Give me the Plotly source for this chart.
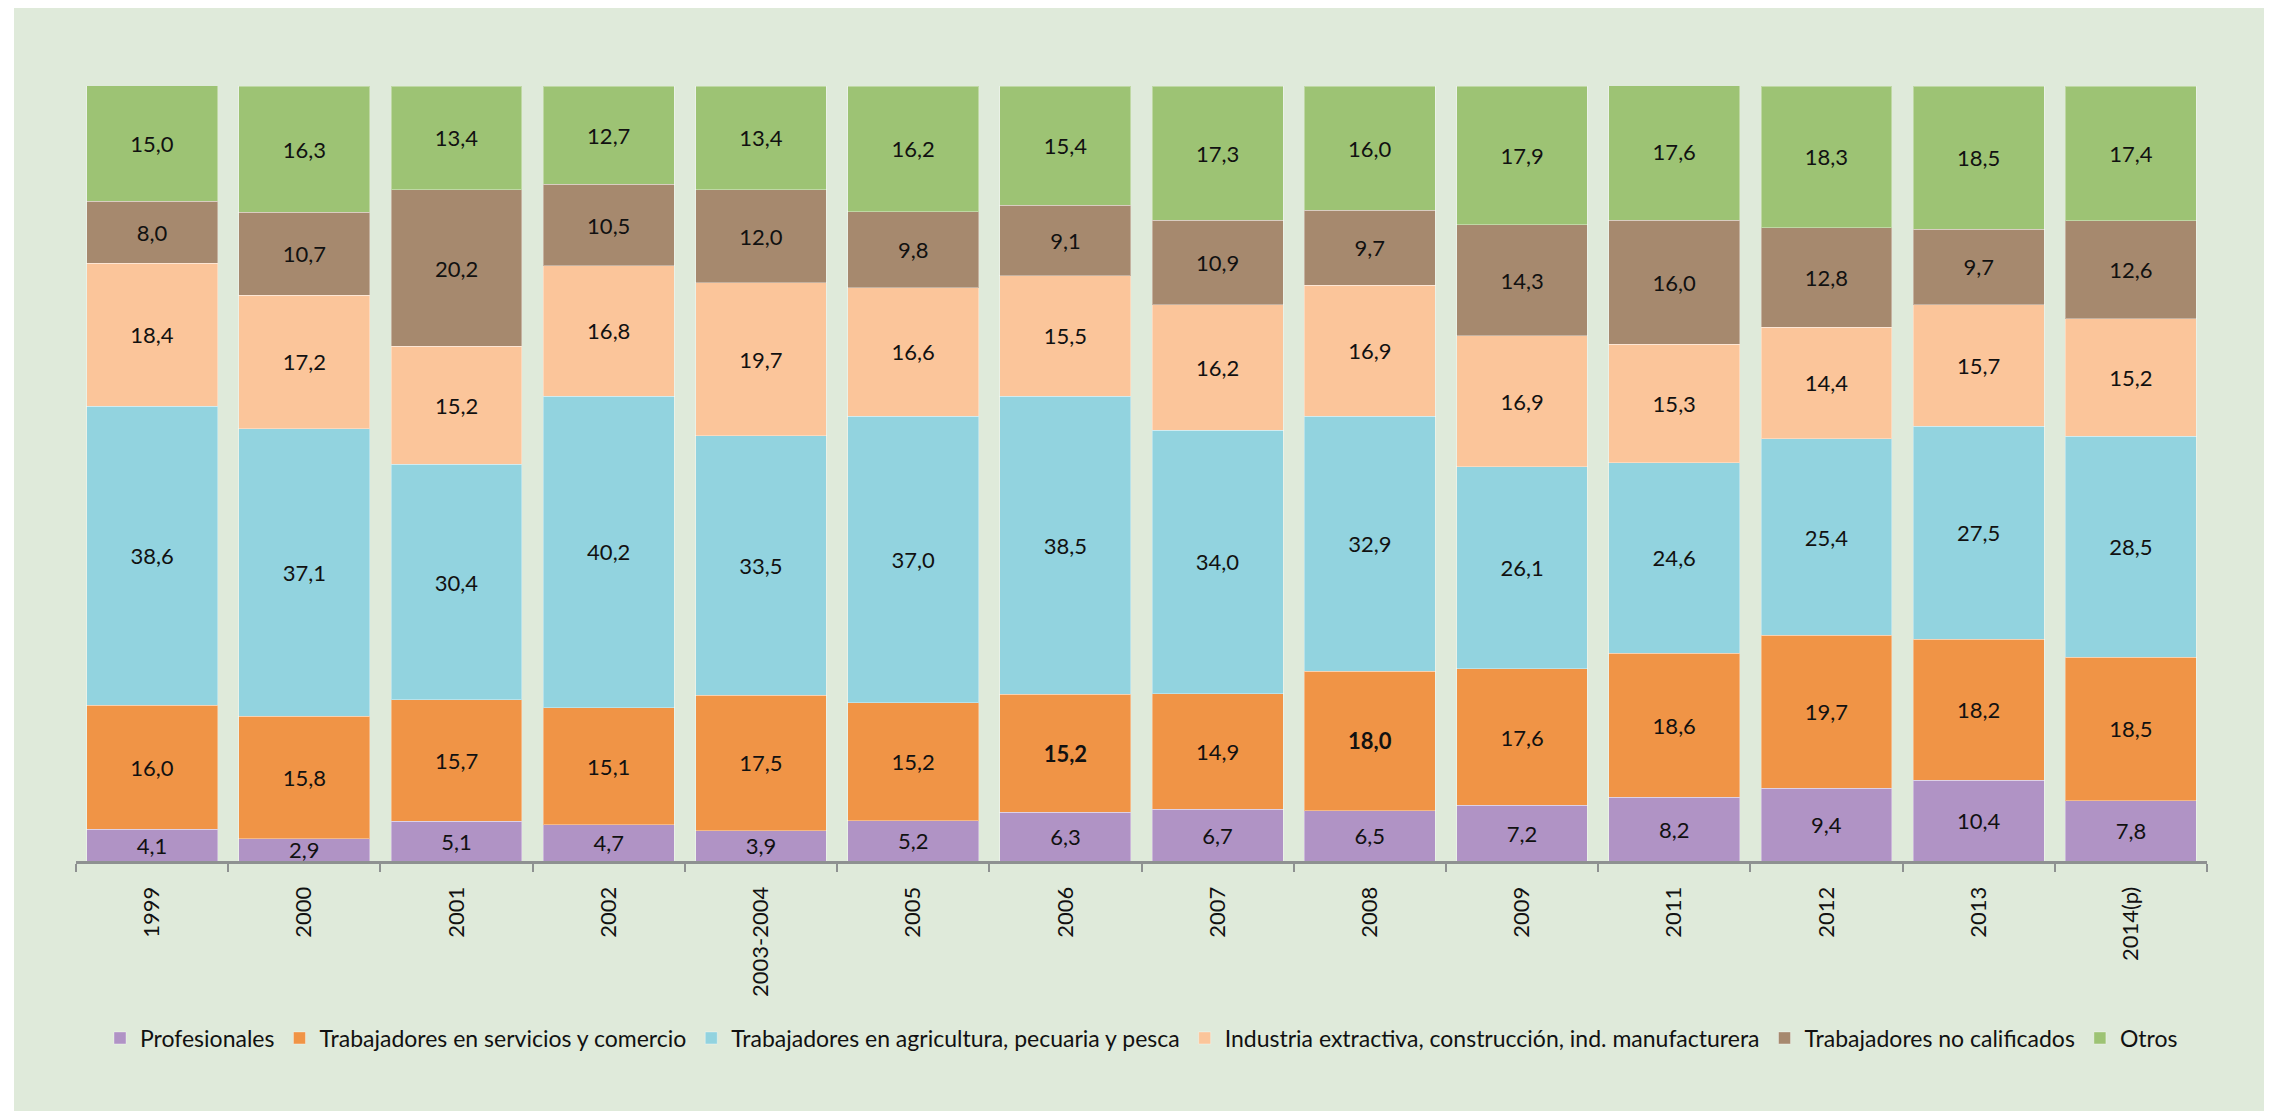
import plotly.graph_objects as go

years = ["1999", "2000", "2001", "2002", "2003-2004", "2005", "2006",
         "2007", "2008", "2009", "2011", "2012", "2013", "2014(p)"]

profesionales = [4.1, 2.9, 5.1, 4.7, 3.9, 5.2, 6.3, 6.7, 6.5, 7.2, 8.2, 9.4, 10.4, 7.8]
servicios = [16.0, 15.8, 15.7, 15.1, 17.5, 15.2, 15.2, 14.9, 18.0, 17.6, 18.6, 19.7, 18.2, 18.5]
agricultura = [38.6, 37.1, 30.4, 40.2, 33.5, 37.0, 38.5, 34.0, 32.9, 26.1, 24.6, 25.4, 27.5, 28.5]
industria = [18.4, 17.2, 15.2, 16.8, 19.7, 16.6, 15.5, 16.2, 16.9, 16.9, 15.3, 14.4, 15.7, 15.2]
no_calificados = [8.0, 10.7, 20.2, 10.5, 12.0, 9.8, 9.1, 10.9, 9.7, 14.3, 16.0, 12.8, 9.7, 12.6]
otros = [15.0, 16.3, 13.4, 12.7, 13.4, 16.2, 15.4, 17.3, 16.0, 17.9, 17.6, 18.3, 18.5, 17.4]

# labels shown in bold in the original
bold_servicios = ["2006", "2008"]

series = [
    ("Profesionales", profesionales, "#B093C5"),
    ("Trabajadores en servicios y comercio", servicios, "#F09446"),
    ("Trabajadores en agricultura, pecuaria y pesca", agricultura, "#92D3DF"),
    ("Industria extractiva, construcción, ind. manufacturera", industria, "#FBC59A"),
    ("Trabajadores no calificados", no_calificados, "#A6896E"),
    ("Otros", otros, "#9DC374"),
]

FONT = "Lato, 'Open Sans', sans-serif"


def fmt(v):
    return f"{v:.1f}".replace(".", ",")


fig = go.Figure()
for name, values, color in series:
    labels = []
    for year, v in zip(years, values):
        t = fmt(v)
        if values is servicios and year in bold_servicios:
            t = f"<b>{t}</b>"
        labels.append(t)
    fig.add_trace(go.Bar(
        x=years, y=values, name=name,
        marker=dict(color=color, line=dict(color="rgba(255,255,255,0.35)", width=1)),
        text=labels, textposition="inside", insidetextanchor="middle",
        constraintext="none", textangle=0,
        textfont=dict(family=FONT, size=22, color="#111111"),
        hoverinfo="skip",
    ))

# the page body adds an 8px offset, so figure coords = page coords - 8
FW, FH = 2264, 1103
L, R, T, B = 68, FW - 2199, 78, FH - 853
W, H = FW - L - R, FH - T - B

fig.update_layout(
    width=FW, height=FH,
    barmode="stack", bargap=0.14,
    paper_bgcolor="white", plot_bgcolor="rgba(0,0,0,0)",
    margin=dict(l=L, r=R, t=T, b=B),
    font=dict(family=FONT, size=22, color="#111111"),
    showlegend=True,
    legend=dict(
        orientation="h", x=0.5, xanchor="center",
        y=-(1030 - 853) / H, yanchor="middle",
        font=dict(family=FONT, size=23, color="#111111"),
        traceorder="normal", bgcolor="rgba(0,0,0,0)",
    ),
    xaxis=dict(
        type="category", showline=True, linecolor="#8E9191", linewidth=3,
        ticks="outside", tickson="boundaries", ticklen=8, tickwidth=2,
        tickcolor="#8E9191", tickangle=-90, ticklabelstandoff=14,
        tickfont=dict(family=FONT, size=22, color="#111111"),
        showgrid=False, zeroline=False, fixedrange=True,
    ),
    yaxis=dict(range=[0, 100], visible=False, fixedrange=True),
    shapes=[
        # green panel, white strip on the left
        dict(type="rect", xref="paper", yref="paper", layer="below",
             x0=(6 - L) / W, x1=1 + R / W + 0.01,
             y0=-B / H - 0.01, y1=1 + T / H + 0.01,
             fillcolor="#DFEADA", line=dict(width=0)),
    ],
)

fig.write_html("out.html")
